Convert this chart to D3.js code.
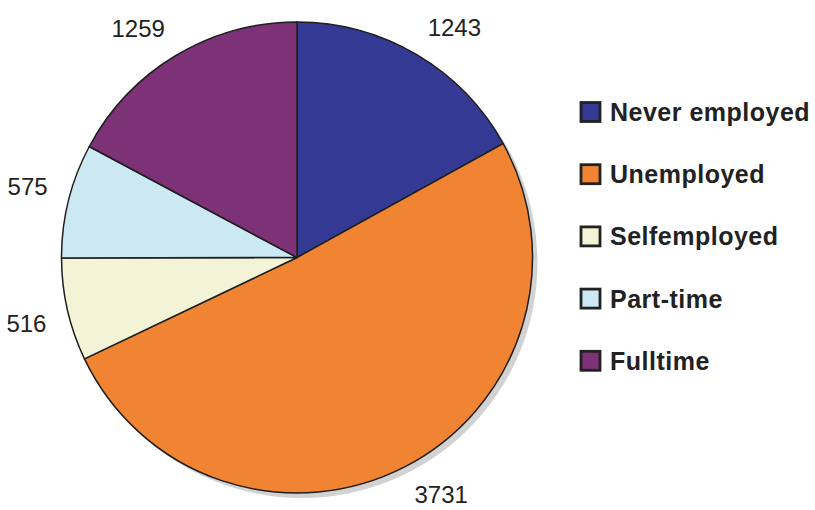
<!DOCTYPE html>
<html>
<head>
<meta charset="utf-8">
<script src="https://cdn.jsdelivr.net/npm/d3@7"></script>
<style>
  body { margin: 0; background: #fff; }
</style>
</head>
<body>
<svg id="chart"></svg>
<script>
// data
const categories = ["Never employed", "Unemployed", "Selfemployed", "Part-time", "Fulltime"];
const counts = [1243, 3731, 516, 575, 1259];
const sliceColors = ["#343a93", "#f08433", "#f3f3d8", "#cce8f3", "#7d3176"];

var width = 815, height = 510;
var cx = 297, cy = 257.5, radius = 235.5;
var labelSize = 24, labelR = 257;

const svg = d3.select("#chart")
    .attr("width", width)
    .attr("height", height)
    .style("font-family", "'Liberation Sans', Arial, sans-serif");

const pie = d3.pie().sort(null).value(d => d.value);
const arcs = pie(categories.map((c, i) => ({name: c, value: counts[i], color: sliceColors[i]})));

const arc = d3.arc().innerRadius(0).outerRadius(radius);
const labelArc = d3.arc().innerRadius(labelR).outerRadius(labelR);

const g = svg.append("g").attr("transform", `translate(${cx},${cy})`);

// drop shadow
g.append("circle")
    .attr("cx", 5).attr("cy", 5)
    .attr("r", radius)
    .attr("fill", "#d2d2d2");

g.selectAll("path.slice")
    .data(arcs)
    .join("path")
    .attr("class", "slice")
    .attr("d", arc)
    .attr("fill", d => d.data.color)
    .attr("stroke", "#1e1e1e")
    .attr("stroke-width", 1.5)
    .attr("stroke-linejoin", "round");

// value labels: the corner of the text nearest the pie sits on labelR
g.selectAll("text.val")
    .data(arcs)
    .join("text")
    .attr("class", "val")
    .attr("x", d => labelArc.centroid(d)[0])
    .attr("y", d => {
        const p = labelArc.centroid(d);
        return p[1] < 0 ? p[1] : p[1] + labelSize * 0.72;
    })
    .attr("text-anchor", d => labelArc.centroid(d)[0] < 0 ? "end" : "start")
    .attr("font-size", labelSize)
    .attr("fill", "#222")
    .text(d => d.data.value);

// legend
const legend = svg.append("g").attr("transform", "translate(580,112)");
const item = legend.selectAll("g")
    .data(arcs)
    .join("g")
    .attr("transform", (d, i) => `translate(0,${i * 62.2})`);

item.append("rect")
    .attr("x", 1).attr("y", -9.5)
    .attr("width", 19).attr("height", 19)
    .attr("fill", d => d.data.color)
    .attr("stroke", "#222")
    .attr("stroke-width", 2.8);

item.append("text")
    .attr("x", 30)
    .attr("dominant-baseline", "central")
    .attr("font-size", 25)
    .attr("font-weight", "bold")
    .attr("letter-spacing", 0.5)
    .attr("fill", "#222")
    .text(d => d.data.name);
</script>
</body>
</html>
